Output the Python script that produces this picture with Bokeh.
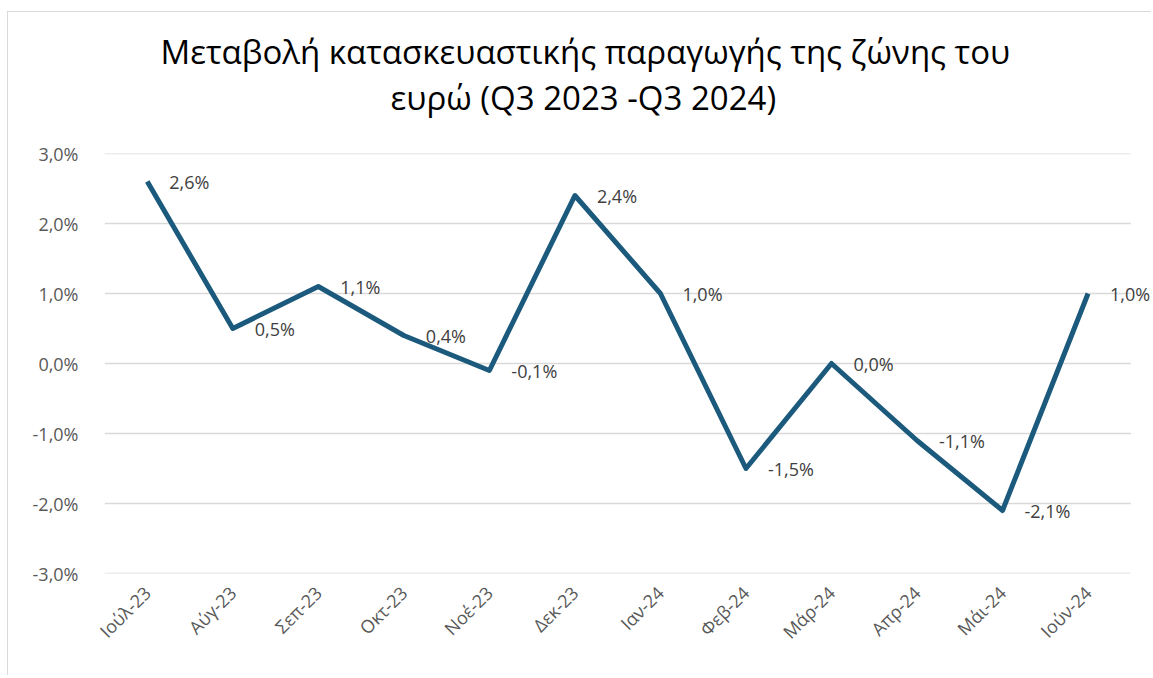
from bokeh.plotting import figure
from bokeh.models import Range1d, FixedTicker, LabelSet, ColumnDataSource, Title
from bokeh.core.properties import value
from bokeh.embed import file_html
from bokeh.resources import INLINE
import math

months = ["Ιούλ-23", "Αύγ-23", "Σεπ-23", "Οκτ-23", "Νοέ-23", "Δεκ-23",
          "Ιαν-24", "Φεβ-24", "Μάρ-24", "Απρ-24", "Μάι-24", "Ιούν-24"]
change = [2.6, 0.5, 1.1, 0.4, -0.1, 2.4, 1.0, -1.5, 0.0, -1.1, -2.1, 1.0]
ytick_values = [-3, -2, -1, 0, 1, 2, 3]
ytick_labels = ["-3,0%", "-2,0%", "-1,0%", "0,0%", "1,0%", "2,0%", "3,0%"]
title_lines = ["Μεταβολή κατασκευαστικής παραγωγής της ζώνης του",
               "ευρώ (Q3 2023 -Q3 2024)"]

FONT = "Open Sans"
LINE_COLOR = "#1B5A7D"

xs = list(range(len(months)))
labels = [("%.1f" % v).replace(".", ",") + "%" for v in change]
src = ColumnDataSource(dict(x=xs, y=change, lab=labels))

n = len(months)
p = figure(width=1144, height=664, x_range=Range1d(-0.5, n - 0.5 + 0.23),
           y_range=Range1d(-3, 3),
           output_backend="svg", toolbar_location=None,
           min_border_left=96, min_border_right=2, min_border_top=141,
           min_border_bottom=103)
p.outline_line_color = None
p.background_fill_color = "white"
p.border_fill_color = "white"
p.styles = {"border-left": "1px solid #D9D9D9", "border-top": "1px solid #D9D9D9",
            "margin-left": "7px", "margin-top": "11px"}

# horizontal gridlines over the category span only
p.segment(x0=[-0.5] * len(ytick_values), x1=[n - 0.5] * len(ytick_values),
          y0=ytick_values, y1=ytick_values, line_color="#D9D9D9", line_width=1.5)
p.xgrid.grid_line_color = None
p.ygrid.grid_line_color = None

p.line("x", "y", source=src, line_color=LINE_COLOR, line_width=5,
       line_join="round")
p.add_layout(LabelSet(x="x", y="y", text="lab", source=src, x_offset=22,
                      text_baseline="middle", text_align="left",
                      text_font=value(FONT), text_font_size=value("18px"),
                      text_color=value("#404040")))

p.yaxis.ticker = FixedTicker(ticks=ytick_values)
p.yaxis.major_label_overrides = {v: l for v, l in zip(ytick_values, ytick_labels)}
p.xaxis.ticker = FixedTicker(ticks=xs)
p.xaxis.major_label_overrides = {x: m for x, m in zip(xs, months)}
for ax in (p.xaxis, p.yaxis):
    ax.axis_line_color = None
    ax.major_tick_line_color = None
    ax.minor_tick_line_color = None
    ax.major_label_text_font = FONT
    ax.major_label_text_font_size = "18px"
    ax.major_label_text_color = "#595959"
p.yaxis.major_label_standoff = 20
p.xaxis.major_label_standoff = 10
p.xaxis.major_label_orientation = math.pi / 4

# spacer nearest the frame, then the two title lines
p.add_layout(Title(text=" ", text_font_size="1px", standoff=30), "above")
p.add_layout(Title(text=title_lines[1], align="left", offset=286,
                   vertical_align="middle",
                   text_font=FONT, text_font_size="33px",
                   text_font_style="normal", text_color="#000000",
                   standoff=0), "above")
p.add_layout(Title(text=title_lines[0], align="left", offset=56,
                   vertical_align="bottom",
                   text_font=FONT, text_font_size="33px",
                   text_font_style="normal", text_color="#000000",
                   standoff=0), "above")

open("out.html", "w").write(file_html(p, INLINE))
